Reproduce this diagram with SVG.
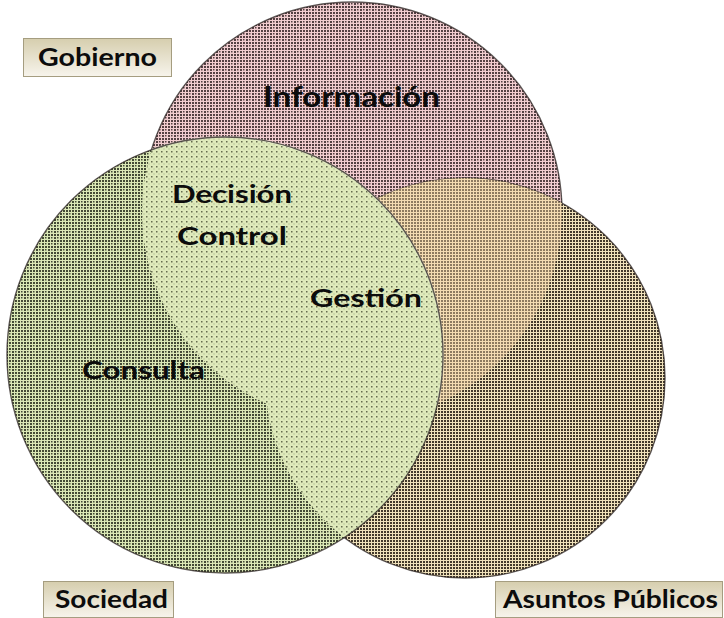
<svg xmlns="http://www.w3.org/2000/svg" width="724" height="618" viewBox="0 0 724 618">
<style>
.lbl{font-family:Lato,"Open Sans","Liberation Sans",sans-serif;font-weight:bold;fill:#0c0c0c}
.box{fill:url(#boxg);stroke:#a59d80;stroke-width:1}
.rim{fill:none;stroke:#2a2220;stroke-width:1.4;stroke-opacity:.75}
</style>
<defs>
<linearGradient id="boxg" x1="0" y1="0" x2="0" y2="1">
<stop offset="0" stop-color="#d6ceae"/>
<stop offset="1" stop-color="#f7f4ec"/>
</linearGradient>
<pattern id="pk" width="6" height="6" patternUnits="userSpaceOnUse">
<rect width="6" height="6" fill="#f2cdd0"/>
<path d="M0 0h2v2H0zM3 0h2v2H3zM0 3h2v2H0zM3 3h1.5v1.5H3z" fill="#2e1e20" fill-opacity=".8"/>
</pattern>
<pattern id="br" width="6" height="6" patternUnits="userSpaceOnUse">
<rect width="6" height="6" fill="#f0e2bb"/>
<path d="M0 0h2v2H0zM3 0h2v2H3zM0 3h2v2H0zM3 3h2v2H3z" fill="#241b12" fill-opacity=".85"/>
</pattern>
<pattern id="gr" width="6" height="6" patternUnits="userSpaceOnUse">
<rect width="6" height="6" fill="#dbe8b6"/>
<path d="M0 0h2v2H0zM3 0h2v2H3zM0 3h2v2H0zM3 3h1.5v1.5H3z" fill="#1e2416" fill-opacity=".8"/>
</pattern>
<pattern id="pb" width="6" height="6" patternUnits="userSpaceOnUse">
<rect width="6" height="6" fill="#f4dcb2"/>
<path d="M0 0h2v2H0zM3 0h2v2H3zM0 3h2v2H0zM3 3h2v2H3z" fill="#4a3a2a" fill-opacity=".6"/>
</pattern>
<pattern id="gl" width="5" height="5" patternUnits="userSpaceOnUse">
<rect width="5" height="5" fill="#dfeabb"/>
<rect x="1" y="1" width="1.5" height="1.5" fill="#3a4028" fill-opacity=".75"/>
<rect x="3.5" y="3.5" width="1" height="1" fill="#3a4028" fill-opacity=".4"/>
</pattern>
<clipPath id="cpPink"><circle cx="352" cy="212" r="210"/></clipPath>
<clipPath id="cpGreen"><circle cx="225" cy="355" r="218"/></clipPath>
</defs>
<rect width="724" height="618" fill="#ffffff"/>

<g id="circle-gobierno">
<circle cx="352" cy="212" r="210" fill="url(#pk)"/>
<circle class="rim" cx="352" cy="212" r="210"/>
</g>
<g id="circle-asuntos">
<circle cx="465" cy="378" r="200" fill="url(#br)"/>
<circle class="rim" cx="465" cy="378" r="200"/>
<circle cx="465" cy="378" r="200" fill="url(#pb)" clip-path="url(#cpPink)"/>
</g>
<g id="circle-sociedad">
<circle cx="225" cy="355" r="218" fill="url(#gr)"/>
<g clip-path="url(#cpGreen)">
<circle cx="352" cy="212" r="210" fill="url(#gl)"/>
<circle cx="465" cy="378" r="200" fill="url(#gl)"/>
</g>
<circle cx="225" cy="355" r="218" fill="none" stroke="#f4f6e4" stroke-width="2" stroke-opacity=".6" clip-path="url(#cpPink)"/>
<circle class="rim" cx="225" cy="355" r="218" stroke-opacity=".55"/>
</g>

<g id="region-labels">
<text class="lbl" x="263" y="107" font-size="28" textLength="177" lengthAdjust="spacingAndGlyphs">Información</text>
<text class="lbl" x="172" y="203" font-size="25" textLength="120" lengthAdjust="spacingAndGlyphs">Decisión</text>
<text class="lbl" x="177" y="245" font-size="25" textLength="110" lengthAdjust="spacingAndGlyphs">Control</text>
<text class="lbl" x="310" y="307" font-size="25" textLength="112" lengthAdjust="spacingAndGlyphs">Gestión</text>
<text class="lbl" x="82" y="379" font-size="25" textLength="123" lengthAdjust="spacingAndGlyphs">Consulta</text>
</g>

<g id="label-gobierno">
<rect class="box" x="23.5" y="38.5" width="148" height="38"/>
<text class="lbl" x="38" y="66" font-size="24" textLength="119" lengthAdjust="spacingAndGlyphs">Gobierno</text>
</g>
<g id="label-sociedad">
<rect class="box" x="43.5" y="581.5" width="130" height="36"/>
<text class="lbl" x="55" y="608" font-size="24" textLength="113" lengthAdjust="spacingAndGlyphs">Sociedad</text>
</g>
<g id="label-asuntos">
<rect class="box" x="495.5" y="581.5" width="227" height="36"/>
<text class="lbl" x="503" y="608" font-size="24" textLength="215" lengthAdjust="spacingAndGlyphs">Asuntos Públicos</text>
</g>
</svg>
